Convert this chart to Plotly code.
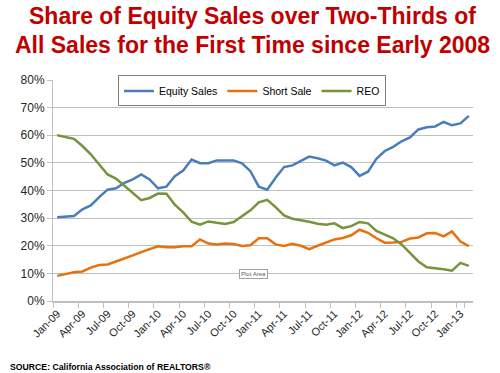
import pandas as pd
import plotly.graph_objects as go

months = list(pd.date_range("2009-01-01", periods=50, freq="MS").strftime("%b-%y"))

equity_sales = [30.3, 30.5, 30.8, 33.2, 34.6, 37.6, 40.3, 40.8, 42.8, 44.0,
                45.8, 44.0, 40.8, 41.4, 45.2, 47.2, 51.2, 49.9, 49.9, 50.9,
                51.0, 50.9, 49.8, 47.0, 41.4, 40.3, 44.6, 48.5, 49.1, 50.7,
                52.3, 51.7, 50.8, 49.1, 50.1, 48.5, 45.3, 46.8, 51.5, 54.3,
                55.8, 57.8, 59.2, 62.1, 62.9, 63.2, 64.8, 63.6, 64.3, 67.0]
short_sale = [9.1, 9.8, 10.4, 10.7, 12.1, 13.0, 13.2, 14.3, 15.3, 16.5,
              17.7, 18.8, 19.8, 19.5, 19.5, 19.8, 19.8, 22.3, 20.8, 20.5,
              20.8, 20.6, 19.9, 20.2, 22.7, 22.7, 20.5, 19.9, 20.7, 20.0,
              18.8, 20.0, 21.1, 22.3, 22.8, 23.8, 25.8, 24.7, 22.7, 21.1,
              21.2, 21.4, 22.6, 23.0, 24.5, 24.6, 23.4, 25.2, 21.5, 19.9]
reo = [60.0, 59.4, 58.7, 56.1, 53.1, 49.4, 45.8, 44.3, 41.8, 39.1,
       36.5, 37.3, 38.9, 38.8, 34.9, 32.1, 28.7, 27.6, 28.8, 28.3,
       27.9, 28.6, 30.7, 32.8, 35.7, 36.6, 34.0, 31.0, 29.8, 29.3,
       28.7, 28.0, 27.6, 28.1, 26.4, 27.1, 28.6, 28.1, 25.4, 24.0,
       22.7, 20.5, 17.5, 14.3, 12.2, 11.9, 11.5, 11.0, 13.8, 12.7]

series = [("Equity Sales", equity_sales, "#4A7EBB"),
          ("Short Sale", short_sale, "#E8700F"),
          ("REO", reo, "#77933C")]

FONT = "Arial, 'Liberation Sans', sans-serif"

fig = go.Figure()
for name, vals, color in series:
    fig.add_trace(go.Scatter(
        x=months, y=[v / 100 for v in vals], name=name, mode="lines",
        line=dict(color=color, width=2.5),
    ))

fig.update_layout(
    width=500, height=373,
    margin=dict(l=53, r=27, t=80, b=72),
    paper_bgcolor="white", plot_bgcolor="white",
    font=dict(family=FONT, size=11, color="#262626"),
    showlegend=True,
    legend=dict(
        orientation="h", x=(252 - 53) / 420, xanchor="center",
        y=(300.5 - 76) / 220, yanchor="top",
        bordercolor="#7F7F7F", borderwidth=1, bgcolor="white",
        font=dict(size=10.5, color="#000000"),
        itemwidth=30, tracegroupgap=0,
    ),
    xaxis=dict(
        type="category", tickson="boundaries",
        tickmode="array", tickvals=months[::3], ticktext=months[::3],
        tickangle=-45, showgrid=False,
        showline=True, linecolor="#BFBFBF", linewidth=2,
        ticks="outside", ticklen=5, tickcolor="#BFBFBF",
        tickfont=dict(size=11, color="#262626"),
        range=[-0.5, 49.5],
    ),
    yaxis=dict(
        range=[0, 0.8], dtick=0.1, tickformat=".0%",
        showgrid=True, gridcolor="#BFBFBF", gridwidth=1,
        showline=True, linecolor="#BFBFBF", linewidth=1,
        ticks="outside", ticklen=5, tickcolor="#BFBFBF",
        zeroline=False,
        tickfont=dict(size=12, color="#262626"),
    ),
    annotations=[
        dict(text="<b>Share of Equity Sales over Two-Thirds of</b>",
             xref="paper", yref="paper", x=(252.5 - 53) / 420, y=(300.5 - 17) / 220,
             xanchor="center", yanchor="middle", showarrow=False,
             font=dict(family=FONT, size=23, color="#C00000")),
        dict(text="<b>All Sales for the First Time since Early 2008</b>",
             xref="paper", yref="paper", x=(252.5 - 53) / 420, y=(300.5 - 45.5) / 220,
             xanchor="center", yanchor="middle", showarrow=False,
             font=dict(family=FONT, size=23, color="#C00000")),
        dict(text="<b>SOURCE: California Association of REALTORS®</b>",
             xref="paper", yref="paper", x=(8 - 53) / 420, y=(300.5 - 366) / 220,
             xanchor="left", yanchor="middle", showarrow=False,
             font=dict(family=FONT, size=8.7, color="#000000")),
        dict(text="Plot Area",
             xref="paper", yref="paper", x=(253 - 53) / 420, y=(300.5 - 274) / 220,
             xanchor="center", yanchor="middle", showarrow=False,
             bgcolor="white", bordercolor="#A0A0A0", borderwidth=1, borderpad=1,
             font=dict(family=FONT, size=6, color="#606060")),
    ],
)

fig.write_html(
    "out.html",
    config={"displayModeBar": False},
    post_script="document.body.style.margin='0';document.body.style.padding='0';",
)
